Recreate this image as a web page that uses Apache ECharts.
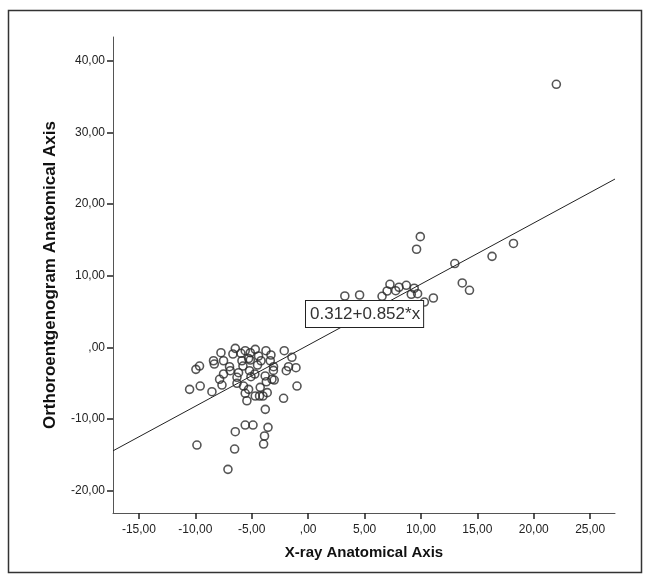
<!DOCTYPE html>
<html>
<head>
<meta charset="utf-8">
<script src="https://cdn.jsdelivr.net/npm/echarts@6/dist/echarts.min.js"></script>
<style>
  html, body { margin: 0; padding: 0; background: #fff; }
  #chart { width: 649px; height: 581px; }
</style>
</head>
<body>
<div id="chart"></div>
<script>
// x = X-ray anatomical axis, y = orthoroentgenogram anatomical axis
const xValues = [
  22.0, 9.94, 9.61, 18.2, 16.3, 13.0, 13.66, 14.3, 11.1, 10.3,
  7.25, 8.05, 8.7, 9.4, 7.0, 7.76, 6.55, 9.14, 9.7, 3.25, 4.56,
  -6.46, -5.58, -4.69, -3.74, -7.73, -6.67, -5.96, -5.13, -4.40, -3.30,
  -2.12, -1.44, -8.39, -7.50, -5.87, -5.13, -4.18, -3.36, -8.32, -9.63,
  -9.95, -6.97, -5.78, -4.49, -3.07, -1.74, -1.08, -1.94, -7.50, -6.91,
  -6.17, -5.20, -7.85, -6.31, -5.07, -3.21, -3.71, -9.57, -10.51, -8.53,
  -7.64, -6.31, -5.73, -5.28, -4.25, -3.01, -0.99, -5.58, -4.31, -4.69,
  -4.01, -5.43, -2.18, -3.80, -5.58, -4.89, -6.46, -3.56, -3.87, -9.86,
  -6.52, -3.95, -7.11, -5.28, -4.73, -3.81, -3.08, -3.63
];
const yValues = [
  36.7, 15.45, 13.69, 14.5, 12.7, 11.7, 8.99, 7.97, 6.89, 6.33,
  8.8, 8.39, 8.66, 8.25, 7.87, 7.91, 7.13, 7.41, 7.49, 7.17, 7.31,
  -0.13, -0.46, -0.27, -0.46, -0.74, -0.92, -0.82, -0.74, -1.20, -1.06,
  -0.46, -1.38, -1.86, -1.86, -1.86, -1.76, -1.86, -1.86, -2.32, -2.60,
  -3.06, -2.69, -2.60, -2.46, -2.69, -2.69, -2.83, -3.25, -3.71, -3.25,
  -3.53, -3.25, -4.45, -4.17, -4.09, -4.45, -4.79, -5.39, -5.85, -6.18,
  -5.25, -5.01, -5.39, -5.85, -5.57, -4.55, -5.39, -6.40, -6.78, -6.78,
  -6.78, -7.44, -7.10, -8.64, -10.83, -10.83, -11.76, -11.15, -12.36, -13.62,
  -14.18, -13.48, -17.01, -1.55, -3.71, -3.98, -3.21, -6.31
];
const xTicks = [-15, -10, -5, 0, 5, 10, 15, 20, 25];
const yTicks = [-20, -10, 0, 10, 20, 30, 40];
const xRange = [-17.3, 27.2];
const yRange = [-23.1, 43.3];
// fit line: intercept, slope
const fitCoef = [0.312, 0.852];
const fitLabelAt = [5.0, 4.66];

const points = xValues.map((x, i) => [x, yValues[i]]);
const fitLine = xRange.map(x => [x, fitCoef[0] + fitCoef[1] * x]);

// SPSS style: 10,00  ,00  -5,00
function fmt(v) {
  let s = Math.abs(v).toFixed(2).replace(".", ",");
  if (s.startsWith("0,")) s = s.slice(1);
  return (v < 0 ? "-" : "") + s;
}

const font = "'Liberation Sans', Arial, sans-serif";
const chart = echarts.init(document.getElementById("chart"));
chart.setOption({
  backgroundColor: "#fff",
  animation: false,
  textStyle: { fontFamily: font },
  graphic: [{
    type: "rect",
    shape: { x: 8.5, y: 10.5, width: 633, height: 562 },
    style: { fill: "none", stroke: "#333", lineWidth: 1.5 },
    silent: true
  }],
  grid: { left: 113, right: 34, top: 37, bottom: 68 },
  xAxis: {
    type: "value",
    min: xRange[0],
    max: xRange[1],
    name: "X-ray Anatomical Axis",
    nameLocation: "middle",
    nameGap: 32,
    nameTextStyle: { fontSize: 15, fontWeight: "bold", color: "#111", fontFamily: font },
    axisLine: { onZero: false, lineStyle: { color: "#555", width: 1 } },
    axisTick: { customValues: xTicks, length: 6, lineStyle: { color: "#222", width: 1.5 } },
    axisLabel: { customValues: xTicks, formatter: fmt, fontSize: 12, color: "#222", margin: 11 },
    splitLine: { show: false }
  },
  yAxis: {
    type: "value",
    min: yRange[0],
    max: yRange[1],
    name: "Orthoroentgenogram Anatomical Axis",
    nameLocation: "middle",
    nameGap: 54,
    nameTextStyle: { fontSize: 17, fontWeight: "bold", color: "#111", fontFamily: font },
    axisLine: { onZero: false, lineStyle: { color: "#555", width: 1 } },
    axisTick: { customValues: yTicks, length: 6, lineStyle: { color: "#222", width: 1.5 } },
    axisLabel: { customValues: yTicks, formatter: fmt, fontSize: 12, color: "#222", margin: 8 },
    splitLine: { show: false }
  },
  series: [
    {
      name: "fit",
      type: "line",
      data: fitLine,
      symbol: "none",
      lineStyle: { color: "#222", width: 1 },
      z: 2,
      markPoint: {
        symbol: "rect",
        symbolSize: 0.1,
        data: [{ coord: fitLabelAt }],
        label: {
          show: true,
          formatter: "0.312+0.852*x",
          fontSize: 17,
          color: "#333",
          fontFamily: font,
          backgroundColor: "#fff",
          borderColor: "#222",
          borderWidth: 1,
          padding: [5, 3, 4, 4]
        }
      }
    },
    {
      name: "points",
      type: "scatter",
      data: points,
      symbol: "circle",
      symbolSize: 8,
      itemStyle: { color: "rgba(255,255,255,0)", borderColor: "#2a2a2a", borderWidth: 1.6 },
      z: 3
    }
  ]
});
</script>
</body>
</html>
